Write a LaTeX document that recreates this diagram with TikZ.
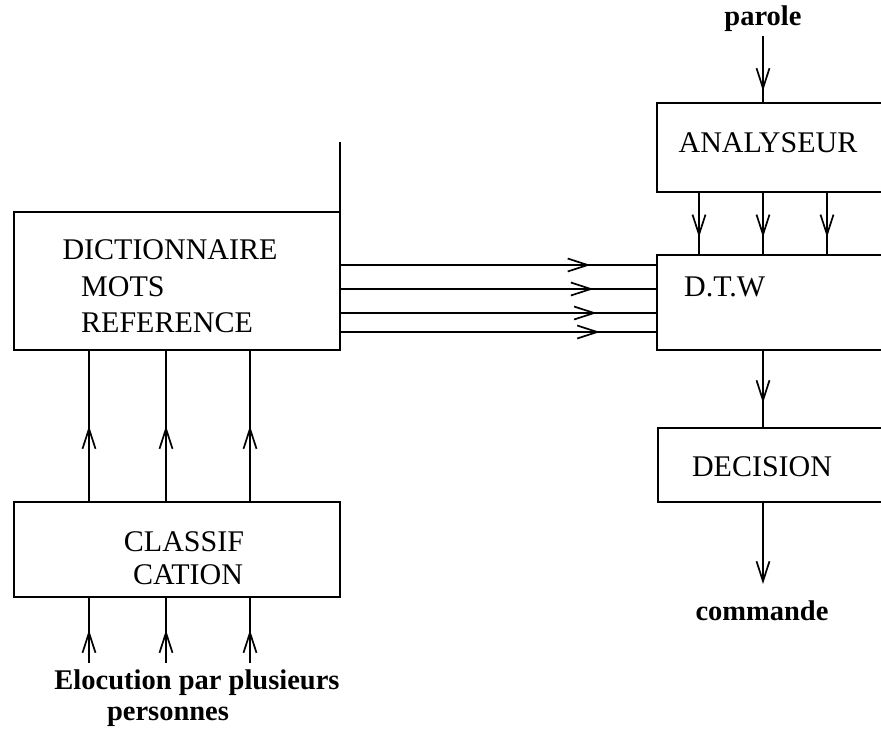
\documentclass[tikz,border=0pt]{standalone}
\usepackage{fontspec}
\setmainfont{Liberation Serif}
\usetikzlibrary{arrows.meta,decorations.markings}
\tikzset{
  box/.style={draw,line width=1.6pt,inner sep=0pt,outer sep=0pt},
  lbl/.style={inner sep=0pt,font=\fontsize{30}{34}\selectfont},
  blbl/.style={inner sep=0pt,font=\fontsize{28.5}{32}\selectfont\bfseries},
  conn/.style={line width=1.7pt},
  tipat/.style={postaction={decorate,decoration={markings,
      mark=at position #1 with {\arrow[line width=1.7pt]{Straight Barb[length=20pt,width=13pt]}}}}},
  tipend/.style={-{Straight Barb[length=20pt,width=13pt]}}
}
\begin{document}
\begin{tikzpicture}[x=1pt,y=-1pt]
\useasboundingbox (0,0) rectangle (881,734);
\clip (0,0) rectangle (881,734);
% boxes
\node[box,minimum width=326pt,minimum height=138pt] (dict) at (177,281) {};
\node[box,minimum width=326pt,minimum height=95pt] (clas) at (177,549.5) {};
\node[box,minimum width=250pt,minimum height=89pt] (ana) at (782,147.5) {};
\node[box,minimum width=250pt,minimum height=95pt] (dtw) at (782,302.5) {};
\node[box,minimum width=250pt,minimum height=74pt] (dec) at (783,465) {};
% box texts
\node[lbl] (t1) at (170,250) {DICTIONNAIRE};
\node[lbl,anchor=west] (t2) at (81,287) {MOTS};
\node[lbl,anchor=west] (t3) at (81,323) {REFERENCE};
\node[lbl] (t4) at (184,542) {CLASSIF};
\node[lbl] (t5) at (188,575) {CATION};
\node[lbl] (t6) at (768,143) {ANALYSEUR};
\node[lbl,anchor=west] (t7) at (684,287) {D.T.W};
\node[lbl] (t8) at (762,467) {DECISION};
% outer labels
\node[blbl] (parole) at (763,19) {parole};
\node[blbl] (cmd) at (762,611) {commande};
\node[blbl] (eloc) at (197,683) {Elocution par plusieurs};
\node[blbl] (pers) at (168,717) {personnes};
% column coordinates
\coordinate (c1) at (89,0);
\coordinate (c2) at (166,0);
\coordinate (c3) at (250,0);
\coordinate (r1) at (699,0);
\coordinate (r2) at (763,0);
\coordinate (r3) at (827,0);
\coordinate (h1) at (0,265);
\coordinate (h2) at (0,289);
\coordinate (h3) at (0,313);
\coordinate (h4) at (0,332);
\coordinate (ext) at (340,142);
\coordinate (pin) at (763,36);
\coordinate (cend) at (763,584);
% extension line above dictionary
\draw[conn] (dict.north east) -- (ext);
% dictionary to DTW
\draw[conn,tipat=0.79] (dict.east |- h1) -- (dtw.west |- h1);
\draw[conn,tipat=0.80] (dict.east |- h2) -- (dtw.west |- h2);
\draw[conn,tipat=0.81] (dict.east |- h3) -- (dtw.west |- h3);
\draw[conn,tipat=0.82] (dict.east |- h4) -- (dtw.west |- h4);
% parole to analyseur
\draw[conn,tipat=0.82] (pin) -- (ana.north -| r2);
% analyseur to DTW
\draw[conn,tipat=0.72] (ana.south -| r1) -- (dtw.north -| r1);
\draw[conn,tipat=0.72] (ana.south -| r2) -- (dtw.north -| r2);
\draw[conn,tipat=0.72] (ana.south -| r3) -- (dtw.north -| r3);
% DTW to decision
\draw[conn,tipat=0.68] (dtw.south -| r2) -- (dec.north -| r2);
% decision to commande
\draw[conn,tipend] (dec.south -| r2) -- (cend);
% classification to dictionary
\draw[conn,tipat=0.50] (clas.north -| c1) -- (dict.south -| c1);
\draw[conn,tipat=0.50] (clas.north -| c2) -- (dict.south -| c2);
\draw[conn,tipat=0.50] (clas.north -| c3) -- (dict.south -| c3);
% inputs to classification
\coordinate (b1) at (89,663);
\coordinate (b2) at (166,663);
\coordinate (b3) at (250,663);
\draw[conn,tipat=0.50] (b1) -- (clas.south -| c1);
\draw[conn,tipat=0.50] (b2) -- (clas.south -| c2);
\draw[conn,tipat=0.50] (b3) -- (clas.south -| c3);
\end{tikzpicture}
\end{document}
